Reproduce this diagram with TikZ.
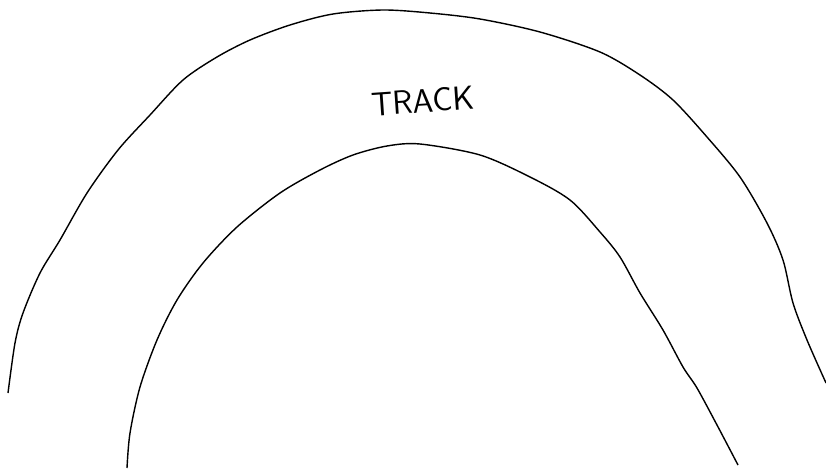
\documentclass[tikz,border=0pt]{standalone}
\usepackage{tikz}

\begin{document}
\begin{tikzpicture}[x=0.02cm, y=-0.02cm]
		\useasboundingbox (0, 0) rectangle (826, 470);
		% outer edge of the track
		\draw [thick] plot [smooth] coordinates {(8,393) (15,343) (23,313) (40,273) (60,240) (87,193) (118,150) (150,115) (183,80) (217,57) (250,40) (290,25) (333,14) (383,10) (430,13) (480,19) (540,32) (600,52) (640,75) (673,100) (707,137) (740,177) (767,223) (783,260) (793,303) (807,340) (826,383)};
		% inner edge of the track
		\draw [thick] plot [smooth] coordinates {(127,468) (130,433) (140,387) (157,340) (177,300) (203,263) (237,227) (280,193) (320,170) (353,155) (387,146) (420,144) (480,155) (530,177) (570,200) (600,232) (620,257) (640,293) (663,330) (683,367) (697,388) (717,425) (738,465)};
		\node [rotate=4, font=\fontsize{19}{23}\selectfont\sffamily] (track) at (423, 101) {TRACK};
	\end{tikzpicture}
\end{document}
